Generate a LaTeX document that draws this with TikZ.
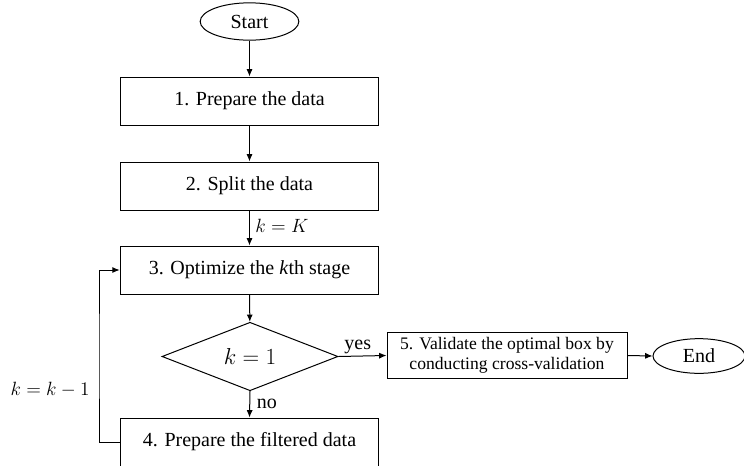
\documentclass[tikz,border=0pt]{standalone}
\usepackage{fontspec}
\setmainfont{Liberation Serif}
\usetikzlibrary{shapes.geometric,arrows.meta}
\begin{document}
\begin{tikzpicture}[x=0.75pt,y=-0.75pt,
  every node/.style={font=\fontsize{15}{17}\selectfont},
  procbox/.style={draw, line width=0.75pt, minimum width=194pt, minimum height=36pt, inner sep=0pt},
  term/.style={draw, ellipse, line width=0.75pt, inner sep=0pt},
  decis/.style={draw, diamond, line width=0.75pt, minimum width=132pt, minimum height=38pt, inner sep=0pt},
  conn/.style={line width=0.75pt, -{Latex[length=5.5pt,width=4.5pt]}},
  lbl/.style={inner sep=1pt},
  mlbl/.style={inner sep=4pt, font=\fontsize{14}{16}\selectfont}]
\useasboundingbox (0,0) rectangle (744,465);
\node[term, minimum width=74pt, minimum height=28pt] (start) at (249.5,21.5) {Start};
\node[procbox] (b1) at (249.5,101) {1. Prepare the data};
\node[procbox] (b2) at (249.5,186) {2. Split the data};
\node[procbox] (b3) at (249.5,270) {3. Optimize the \textit{k}th stage};
\node[decis, font=\fontsize{16}{18}\selectfont] (d) at (250,356.5) {$k=1$};
\node[procbox] (b4) at (249.5,442) {4. Prepare the filtered data};
\node[draw, line width=0.75pt, minimum width=180pt, minimum height=35pt, inner sep=0pt, align=center,
      font=\fontsize{13.2}{15}\selectfont] (b5) at (507,355.5) {5. Validate the optimal box by\\conducting cross-validation};
\node[term, minimum width=69pt, minimum height=26pt] (end) at (699,356) {End};
\coordinate (L) at (99,356);
\draw[conn] (start) -- (b1);
\draw[conn] (b1) -- (b2);
\draw[conn] (b2) -- node[mlbl, right, pos=0.45] {$k=K$} (b3);
\draw[conn] (b3) -- (d);
\draw[conn] (d.east) -- node[lbl, above, pos=0.4] {yes} (b5.west);
\draw[conn] (d.south) -- node[lbl, right, inner sep=5pt, pos=0.5] {no} (b4.north);
\draw[conn] (b5.east) -- (end.west);
\draw[conn] (b4.west) -| (L) |- (b3.west);
\node[mlbl] (kk) at (50,390) {$k=k-1$};
\end{tikzpicture}
\end{document}
